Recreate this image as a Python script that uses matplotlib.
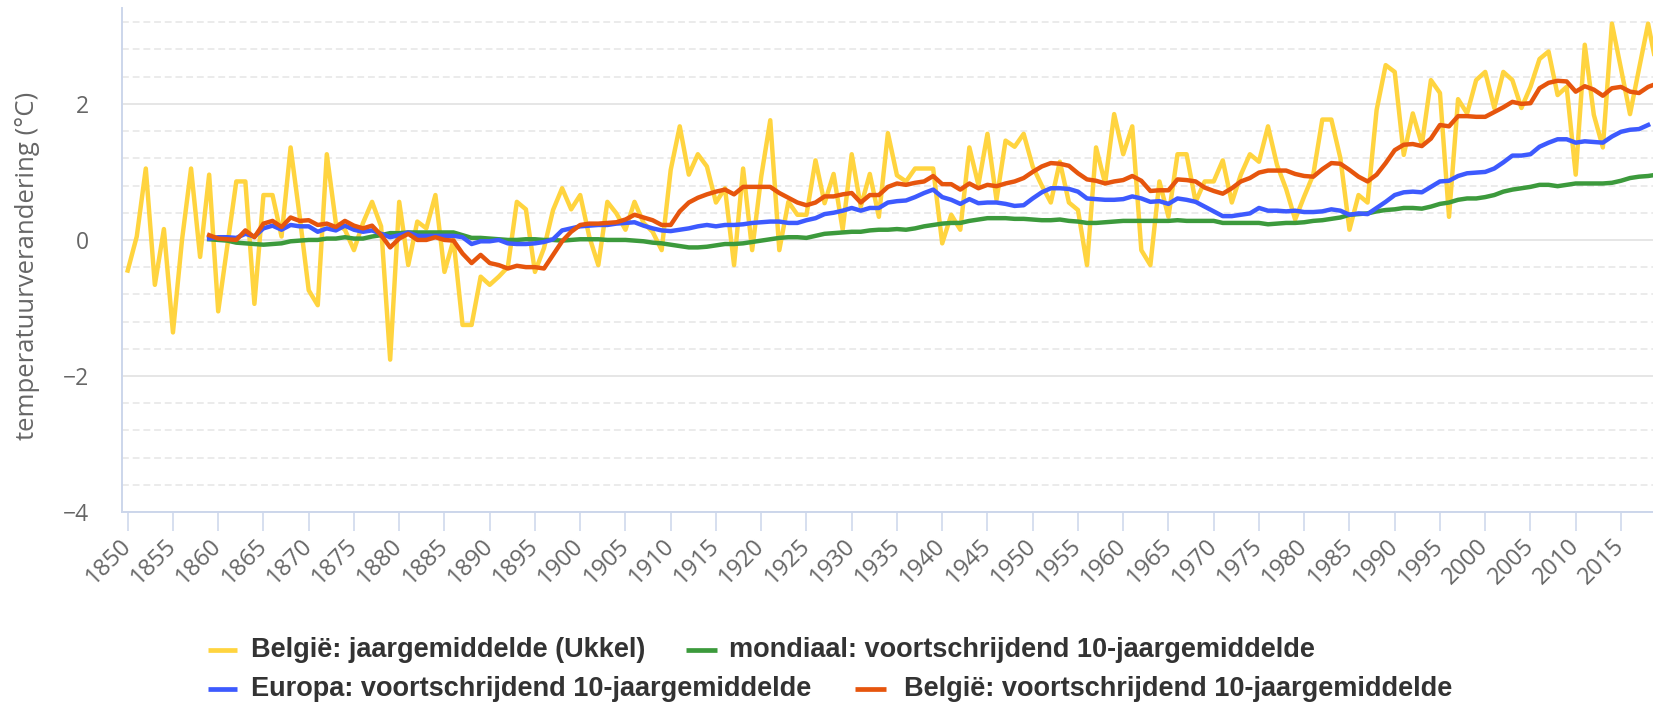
import numpy as np
import matplotlib
matplotlib.use("Agg")
import matplotlib.pyplot as plt
from matplotlib.lines import Line2D
from matplotlib.ticker import MultipleLocator, FixedLocator

# ---------------- data ----------------
years_be = list(range(1850, 2020))
belgium_annual = [
    -0.45, 0.05, 1.05, -0.66, 0.16, -1.36, 0.0, 1.05, -0.25, 0.96,
    -1.05, -0.1, 0.86, 0.86, -0.94, 0.66, 0.66, 0.05, 1.36, 0.35,
    -0.74, -0.96, 1.26, 0.25, 0.15, -0.15, 0.25, 0.56, 0.2, -1.76,
    0.56, -0.37, 0.27, 0.17, 0.66, -0.47, 0.0, -1.25, -1.25, -0.54,
    -0.66, -0.54, -0.4, 0.56, 0.45, -0.47, -0.12, 0.44, 0.76, 0.45,
    0.66, 0.05, -0.37, 0.56, 0.39, 0.15, 0.56, 0.25, 0.12, -0.15,
    1.03, 1.67, 0.96, 1.26, 1.08, 0.55, 0.76, -0.37, 1.05, -0.15,
    0.93, 1.76, -0.15, 0.56, 0.37, 0.37, 1.17, 0.54, 0.97, 0.15,
    1.26, 0.49, 0.97, 0.34, 1.57, 0.95, 0.86, 1.05, 1.05, 1.05,
    -0.05, 0.37, 0.15, 1.36, 0.81, 1.56, 0.59, 1.46, 1.37, 1.56,
    1.08, 0.8, 0.55, 1.15, 0.55, 0.44, -0.37, 1.36, 0.83, 1.85,
    1.26, 1.67, -0.15, -0.37, 0.86, 0.34, 1.26, 1.26, 0.56, 0.86,
    0.86, 1.17, 0.55, 0.96, 1.26, 1.15, 1.67, 1.1, 0.75, 0.3,
    0.64, 0.96, 1.77, 1.77, 1.2, 0.15, 0.66, 0.55, 1.91, 2.57,
    2.47, 1.25, 1.86, 1.4, 2.35, 2.16, 0.34, 2.07, 1.86, 2.35,
    2.47, 1.94, 2.47, 2.35, 1.94, 2.25, 2.66, 2.77, 2.13, 2.25,
    0.96, 2.87, 1.84, 1.36, 3.18, 2.52, 1.85, 2.52, 3.18, 2.5,
]

years_global = list(range(1859, 2020))
global_10yr = [
    0.01,
    0.0, -0.01, -0.04, -0.05, -0.06, -0.07, -0.06, -0.05, -0.02, -0.01,
    0.0, 0.0, 0.02, 0.02, 0.04, 0.02, 0.02, 0.05, 0.07, 0.1,
    0.1, 0.11, 0.11, 0.11, 0.11, 0.11, 0.11, 0.07, 0.03, 0.03,
    0.02, 0.01, 0.0, 0.0, 0.01, 0.01, 0.0, 0.0, -0.01, 0.0,
    0.01, 0.01, 0.01, 0.0, 0.0, 0.0, -0.01, -0.02, -0.04, -0.05,
    -0.07, -0.09, -0.11, -0.11, -0.1, -0.08, -0.06, -0.06, -0.05, -0.03,
    -0.01, 0.01, 0.03, 0.04, 0.04, 0.03, 0.06, 0.09, 0.1, 0.11,
    0.12, 0.12, 0.14, 0.15, 0.15, 0.16, 0.15, 0.17, 0.2, 0.22,
    0.24, 0.25, 0.25, 0.28, 0.30, 0.32, 0.32, 0.32, 0.31, 0.31,
    0.30, 0.29, 0.29, 0.30, 0.28, 0.27, 0.25, 0.25, 0.26, 0.27,
    0.28, 0.28, 0.28, 0.28, 0.28, 0.28, 0.29, 0.28, 0.28, 0.28,
    0.28, 0.25, 0.25, 0.25, 0.25, 0.25, 0.23, 0.24, 0.25, 0.25,
    0.26, 0.28, 0.29, 0.31, 0.33, 0.37, 0.38, 0.39, 0.42, 0.44,
    0.45, 0.47, 0.47, 0.46, 0.49, 0.53, 0.55, 0.59, 0.61, 0.61,
    0.63, 0.66, 0.71, 0.74, 0.76, 0.78, 0.81, 0.81, 0.79, 0.81,
    0.83, 0.83, 0.83, 0.83, 0.84, 0.87, 0.91, 0.93, 0.94, 0.96,
]

years_europe = list(range(1859, 2019))
europe_10yr = [
    0.02,
    0.04, 0.04, 0.03, 0.09, 0.05, 0.17, 0.21, 0.15, 0.22, 0.2,
    0.2, 0.12, 0.17, 0.14, 0.21, 0.15, 0.12, 0.14, 0.09, 0.04,
    0.07, 0.11, 0.06, 0.06, 0.06, 0.06, 0.06, 0.04, -0.06, -0.02,
    -0.02, 0.0, -0.05, -0.06, -0.06, -0.05, -0.03, 0.01, 0.14, 0.17,
    0.2, 0.21, 0.22, 0.22, 0.24, 0.25, 0.26, 0.21, 0.17, 0.14,
    0.13, 0.15, 0.17, 0.2, 0.22, 0.2, 0.22, 0.22, 0.23, 0.25,
    0.26, 0.27, 0.27, 0.25, 0.25, 0.29, 0.32, 0.38, 0.40, 0.43,
    0.47, 0.43, 0.47, 0.47, 0.55, 0.57, 0.58, 0.63, 0.69, 0.74,
    0.63, 0.59, 0.53, 0.6, 0.54, 0.55, 0.55, 0.53, 0.5, 0.51,
    0.61, 0.7, 0.76, 0.76, 0.75, 0.71, 0.61, 0.6, 0.59, 0.59,
    0.6, 0.64, 0.61, 0.56, 0.57, 0.53, 0.61, 0.59, 0.56, 0.49,
    0.42, 0.35, 0.35, 0.37, 0.39, 0.47, 0.43, 0.43, 0.42, 0.43,
    0.41, 0.41, 0.42, 0.45, 0.43, 0.37, 0.39, 0.38, 0.47, 0.56,
    0.66, 0.70, 0.71, 0.70, 0.78, 0.86, 0.87, 0.94, 0.98, 0.99,
    1.0, 1.05, 1.14, 1.24, 1.24, 1.26, 1.37, 1.43, 1.48, 1.48,
    1.43, 1.45, 1.44, 1.43, 1.52, 1.59, 1.62, 1.63, 1.69,
]

years_be10 = list(range(1859, 2020))
belgium_10yr = [
    0.07,
    0.02, 0.01, 0.0, 0.14, 0.04, 0.24, 0.28, 0.19, 0.33, 0.28,
    0.29, 0.22, 0.24, 0.19, 0.28, 0.21, 0.17, 0.21, 0.07, -0.11,
    0.02, 0.09, 0.0, 0.0, 0.04, 0.0, -0.01, -0.2, -0.34, -0.22,
    -0.34, -0.37, -0.42, -0.38, -0.4, -0.4, -0.42, -0.22, -0.02, 0.12,
    0.22, 0.24, 0.24, 0.25, 0.26, 0.3, 0.37, 0.33, 0.29, 0.22,
    0.22, 0.42, 0.55, 0.62, 0.67, 0.71, 0.74, 0.67, 0.78, 0.78,
    0.78, 0.78, 0.69, 0.62, 0.55, 0.51, 0.55, 0.64, 0.64, 0.67,
    0.69, 0.55, 0.66, 0.66, 0.78, 0.83, 0.81, 0.84, 0.86, 0.94,
    0.82, 0.82, 0.74, 0.83, 0.76, 0.81, 0.79, 0.83, 0.86, 0.91,
    1.0, 1.08, 1.13, 1.12, 1.09, 0.98, 0.89, 0.87, 0.83, 0.86,
    0.88, 0.94, 0.87, 0.72, 0.73, 0.73, 0.89, 0.88, 0.86, 0.77,
    0.72, 0.68, 0.76, 0.86, 0.91, 0.99, 1.02, 1.02, 1.02, 0.97,
    0.94, 0.93, 1.04, 1.13, 1.12, 1.03, 0.93, 0.86, 0.96, 1.13,
    1.32, 1.40, 1.41, 1.38, 1.49, 1.69, 1.67, 1.82, 1.82, 1.81,
    1.81, 1.88, 1.95, 2.03, 2.0, 2.01, 2.23, 2.31, 2.34, 2.33,
    2.18, 2.26, 2.21, 2.12, 2.23, 2.25, 2.18, 2.16, 2.25, 2.3,
]

x_ticks = list(range(1850, 2016, 5))
y_ticks = [-4, -2, 0, 2]

labels = [
    "België: jaargemiddelde (Ukkel)",
    "mondiaal: voortschrijdend 10-jaargemiddelde",
    "Europa: voortschrijdend 10-jaargemiddelde",
    "België: voortschrijdend 10-jaargemiddelde",
]
y_label = "temperatuurverandering (°C)"

# ---------------- style ----------------
C_YEL = "#ffd43f"
C_GRN = "#3c9a3c"
C_BLU = "#3d5afe"
C_RED = "#e6550d"
AXIS_C = "#ccd6eb"
GRID_C = "#e6e6e6"
TXT_C = "#666666"

W, H = 1653, 702
fig = plt.figure(figsize=(W / 100, H / 100), dpi=100)
ax_left, ax_right, ax_top, ax_bottom = 122, 1653, 8, 512
ax = fig.add_axes([ax_left / W, 1 - ax_bottom / H,
                   (ax_right - ax_left) / W, (ax_bottom - ax_top) / H])

ax.plot(years_be, belgium_annual, color=C_YEL, lw=3.2, zorder=3)
ax.plot(years_global, global_10yr, color=C_GRN, lw=3.2, zorder=4)
ax.plot(years_europe, europe_10yr, color=C_BLU, lw=3.2, zorder=5)
ax.plot(years_be10, belgium_10yr, color=C_RED, lw=3.2, zorder=6)

ax.set_xlim(1849.37, 2018.54)
ax.set_ylim(-4, 3.41)

# grid
ax.yaxis.set_major_locator(FixedLocator(y_ticks))
ax.yaxis.set_minor_locator(MultipleLocator(0.4))
ax.grid(axis="y", which="major", color=GRID_C, lw=1.4, zorder=0)
ax.grid(axis="y", which="minor", color=GRID_C, lw=1.1,
        linestyle=(0, (4.5, 2.5)), zorder=0)
ax.set_axisbelow(True)

for s in ("top", "right"):
    ax.spines[s].set_visible(False)
for s in ("left", "bottom"):
    ax.spines[s].set_color(AXIS_C)
    ax.spines[s].set_linewidth(1.4)
    ax.spines[s].set_zorder(2)

ax.set_xticks(x_ticks)
ax.set_xticklabels([str(t) for t in x_ticks])
ax.tick_params(axis="x", which="major", direction="out", length=14,
               width=1.1, color=AXIS_C, labelcolor=TXT_C, labelsize=17,
               pad=8)
for lab in ax.get_xticklabels():
    lab.set_rotation(45)
    lab.set_rotation_mode("anchor")
    lab.set_ha("right")
    lab.set_va("center")
    lab.set_fontfamily("Open Sans")

ax.tick_params(axis="y", which="both", length=0, labelcolor=TXT_C,
               labelsize=16.5, pad=24)
for lab in ax.get_yticklabels():
    lab.set_fontfamily("Open Sans")

fig.text(28 / W, 1 - 266 / H, y_label, rotation=90, ha="center",
         va="center", color=TXT_C, fontsize=18.5, family="Open Sans")

# legend (manual, Highcharts-like flow)
legend_items = [
    (208, 237, 251, 650, labels[0], C_YEL),
    (686, 717, 729, 650, labels[1], C_GRN),
    (208, 237, 251, 689, labels[2], C_BLU),
    (855, 886, 904, 689, labels[3], C_RED),
]
for x0, x1, xt, yy, lab, col in legend_items:
    fig.add_artist(Line2D([x0 / W, x1 / W], [1 - yy / H, 1 - yy / H],
                          transform=fig.transFigure, color=col, lw=3.4,
                          solid_capstyle="butt"))
    fig.text(xt / W, 1 - yy / H, lab, ha="left", va="center",
             color="#333333", fontsize=19.5, fontweight="bold",
             family="Liberation Sans")

fig.savefig("out.png", dpi=100, facecolor="white")
